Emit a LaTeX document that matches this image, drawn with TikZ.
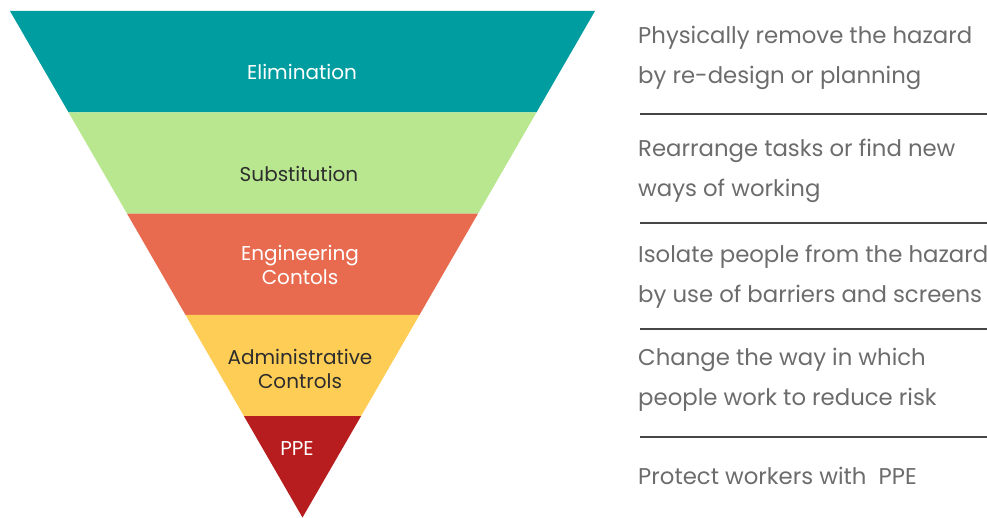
\documentclass[tikz,border=0pt]{standalone}
\usepackage{fontspec}
\setmainfont{Poppins}
\usetikzlibrary{calc}
\definecolor{cteal}{RGB}{0,157,160}
\definecolor{cgreen}{RGB}{185,231,143}
\definecolor{corange}{RGB}{232,107,80}
\definecolor{cyellow}{RGB}{254,205,86}
\definecolor{cred}{RGB}{183,28,30}
\definecolor{cdark}{RGB}{45,45,45}
\definecolor{cdesc}{RGB}{108,108,108}
\definecolor{csep}{RGB}{70,70,70}
\begin{document}
\begin{tikzpicture}[x=1pt,y=-1pt,
  band/.style={draw=none},
  lbl/.style={font=\fontsize{20}{24}\selectfont,align=center,inner sep=0pt},
  desc/.style={font=\fontsize{22.8}{40}\selectfont,text=cdesc,align=left,anchor=west,inner sep=0pt},
  sep/.style={draw=csep,line width=2pt}]
\useasboundingbox (0,0) rectangle (987,518);
\clip (0,0) rectangle (987,518);
\coordinate (TL) at (10,11);
\coordinate (TR) at (595,11);
\coordinate (A) at (302.5,517.5);
\foreach \k/\c in {0/cteal,1/cgreen,2/corange,3/cyellow,4/cred}{
  \pgfmathsetmacro\ka{\k/5}
  \pgfmathsetmacro\kb{(\k+1)/5}
  \fill[\c] ($(TL)!\ka!(A)$) -- ($(TR)!\ka!(A)$) -- ($(TR)!\kb!(A)$) -- ($(TL)!\kb!(A)$) -- cycle;
}
\node[lbl,text=white] (elim) at (302,72) {Elimination};
\node[lbl,text=cdark] (subst) at (299,174) {Substitution};
\node[lbl,text=white] (eng) at (300,265) {Engineering\\Contols};
\node[lbl,text=cdark] (admin) at (300,369) {Administrative\\Controls};
\node[lbl,text=white] (ppe) at (297,449) {PPE};

\node[desc] (d1) at (638,58) {Physically remove the hazard\\by re-design or planning};
\node[desc] (d2) at (638,171) {Rearrange tasks or find new\\ways of working};
\node[desc] (d3) at (638,277) {Isolate people from the hazard\\by use of barriers and screens};
\node[desc] (d4) at (638,380) {Change the way in which\\people work to reduce risk};
\node[desc] (d5) at (638,476) {Protect workers with~ PPE};

\coordinate (s1a) at (640,114); \coordinate (s1b) at (990,114);
\coordinate (s2a) at (640,223); \coordinate (s2b) at (990,223);
\coordinate (s3a) at (640,329); \coordinate (s3b) at (990,329);
\coordinate (s4a) at (640,437); \coordinate (s4b) at (990,437);
\draw[sep] (s1a) -- (s1b);
\draw[sep] (s2a) -- (s2b);
\draw[sep] (s3a) -- (s3b);
\draw[sep] (s4a) -- (s4b);
\end{tikzpicture}
\end{document}
